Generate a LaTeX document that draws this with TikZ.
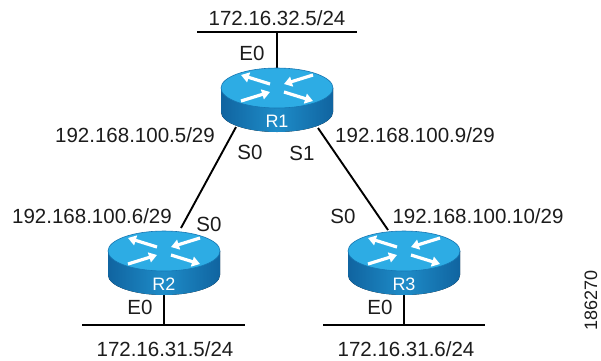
\documentclass[tikz,border=0pt]{standalone}
\usepackage{fontspec}
\setmainfont{Liberation Sans}
\usetikzlibrary{arrows.meta,backgrounds,calc}
\definecolor{rside}{RGB}{30,140,200}
\definecolor{rsidedark}{RGB}{16,100,160}
\definecolor{rtop}{RGB}{45,172,228}
\definecolor{rtopedge}{RGB}{22,118,178}
\definecolor{txt}{RGB}{28,28,28}
\tikzset{
  txtlabel/.style={font=\fontsize{20.5}{24}\selectfont, text=txt, inner sep=0pt, text height=14.7pt, text depth=0pt},
  rlabel/.style={font=\fontsize{18}{20}\selectfont, text=white, inner sep=0pt, text height=12.9pt, text depth=0pt},
  idlabel/.style={font=\fontsize{18}{20}\selectfont, text=txt, inner sep=0pt, rotate=90},
  link/.style={line width=1.9pt, black},
  bus/.style={line width=2.3pt, black},
  rarrow/.style={white, line width=3.2pt, -{Triangle[width=10pt,length=8pt]}},
  pics/router/.style={code={
    \fill[left color=rsidedark, right color=rsidedark, middle color=rside]
      (-56pt,12pt) -- (-56pt,-12pt) arc[start angle=180,end angle=360,x radius=56pt,y radius=20pt] -- (56pt,12pt) -- cycle;
    \filldraw[fill=rtop, draw=rtopedge, line width=0.6pt] (0pt,12pt) ellipse[x radius=56pt,y radius=20pt];
    \draw[rarrow] (-7pt,16pt) -- (-36pt,25pt);
    \draw[rarrow] (36pt,25pt) -- (7pt,16pt);
    \draw[rarrow] (-36pt,-1pt) -- (-7pt,8pt);
    \draw[rarrow] (7pt,8pt) -- (36pt,-1pt);
    \node[rlabel] (-lab) at (0pt,-21pt) {#1};
    \coordinate (-top) at (0pt,32pt);
    \coordinate (-bottom) at (0pt,-32pt);
    \coordinate (-center) at (0pt,0pt);
  }},
}
\begin{document}
\begin{tikzpicture}[x=1pt,y=-1pt]
\useasboundingbox (0,0) rectangle (601,360);

% routers
\pic (R1) at (277,100) {router=R1};
\pic (R2) at (164,263) {router=R2};
\pic (R3) at (404,263) {router=R3};

% LAN segments
\coordinate (bus1w) at (197,32);
\coordinate (bus1e) at (357,32);
\coordinate (bus2w) at (82,325);
\coordinate (bus2e) at (245,325);
\coordinate (bus3w) at (323,325);
\coordinate (bus3e) at (485,325);

\begin{scope}[on background layer]
  \fill[white] (0,0) rectangle (601,360);
  \draw[bus] (bus1w) -- (bus1e);
  \draw[bus] (bus2w) -- (bus2e);
  \draw[bus] (bus3w) -- (bus3e);
  \draw[link] (R1-top) -- (R1-top |- bus1w);
  \draw[link] (R2-bottom) -- (R2-bottom |- bus2w);
  \draw[link] (R3-bottom) -- (R3-bottom |- bus3w);
  \draw[link] ($(R1-center)+(-41pt,-27pt)$) -- ($(R2-center)+(17pt,35pt)$);
  \draw[link] ($(R1-center)+(41pt,-28pt)$) -- ($(R3-center)+(-16pt,33pt)$);
\end{scope}

% labels
\node[txtlabel] (n1) at (277,18) {172.16.32.5/24};
\node[txtlabel] (e1) at (252,53) {E0};
\node[txtlabel] (a1) at (135,135) {192.168.100.5/29};
\node[txtlabel, anchor=west] (a2) at (335,135) {192.168.100.9/29};
\node[txtlabel] (s10) at (250,152) {S0};
\node[txtlabel] (s11) at (302,153) {S1};
\node[txtlabel] (a3) at (92,216) {192.168.100.6/29};
\node[txtlabel] (s20) at (209,224) {S0};
\node[txtlabel] (s30) at (343,216) {S0};
\node[txtlabel] (a4) at (478,216) {192.168.100.10/29};
\node[txtlabel] (e2) at (140,307) {E0};
\node[txtlabel] (e3) at (380,307) {E0};
\node[txtlabel] (n2) at (165,349) {172.16.31.5/24};
\node[txtlabel] (n3) at (406,349) {172.16.31.6/24};
\node[idlabel] (fig) at (591,300) {186270};
\end{tikzpicture}
\end{document}
